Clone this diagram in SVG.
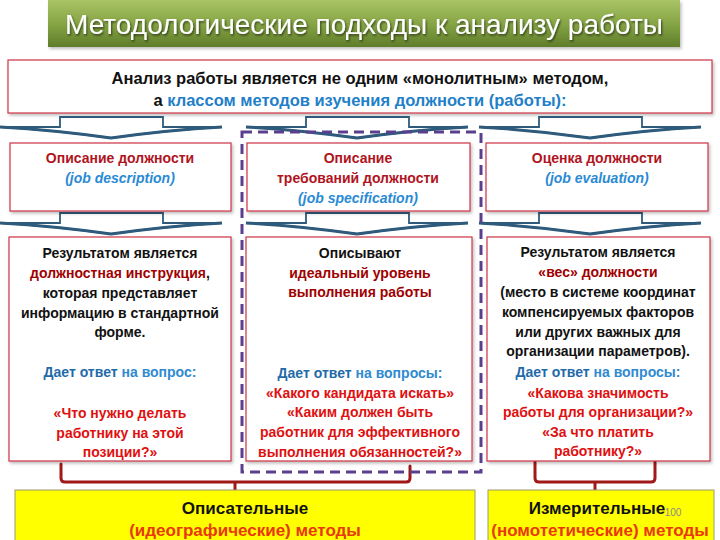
<svg xmlns="http://www.w3.org/2000/svg" width="720" height="540" viewBox="0 0 720 540">
<defs>
<linearGradient id="gTitle" x1="0" y1="0" x2="0" y2="1">
<stop offset="0" stop-color="#a9c466"/>
<stop offset="0.5" stop-color="#86a545"/>
<stop offset="1" stop-color="#5f7d2a"/>
</linearGradient>
<filter id="sh" x="-5%" y="-5%" width="110%" height="120%">
<feDropShadow dx="1.5" dy="2" stdDeviation="1.5" flood-color="#000" flood-opacity="0.25"/>
</filter>
<filter id="tsh" x="-5%" y="-20%" width="110%" height="140%">
<feDropShadow dx="1" dy="1.5" stdDeviation="1" flood-color="#000" flood-opacity="0.6"/>
</filter>
<g id="arrow">
<path d="M60,0 H163 V10 H222 Q168,13 111,21 Q54,13 0,10 H60 Z" fill="#ffffff" stroke="#2e5b7c" stroke-width="1.8" stroke-linejoin="miter"/>
<path d="M222,10 Q168,13 111,21 Q54,13 0,10" fill="none" stroke="#2e5b7c" stroke-width="3"/>
</g>
</defs>
<style>
text{font-family:"Liberation Sans",Arial,sans-serif;font-weight:bold;text-anchor:middle}
.box{fill:#ffffff;stroke:#cc3344;stroke-width:1.2}
.ybox{fill:#ffff00;stroke:#9a9a70;stroke-width:1}
.hd{font-size:14px;fill:#b0141e}
.it{font-size:14px;fill:#2a8ad4;font-style:italic}
.bd{font-size:14px;fill:#111111}
.dr{font-size:14px;fill:#a00000}
.bl{font-size:14px;fill:#1f6aa8}
.q{font-size:14px;fill:#e01010}
.br{fill:none;stroke:#a01818;stroke-width:3;stroke-linejoin:round;stroke-linecap:round}
</style>

<g id="title">
<rect x="48" y="0" width="632" height="47" fill="url(#gTitle)" filter="url(#sh)"/>
<text x="364" y="34" style="font-size:28px;font-weight:normal;fill:#ffffff" filter="url(#tsh)">Методологические подходы к анализу работы</text>
</g>

<g id="intro">
<rect class="box" x="8" y="60" width="704" height="53" filter="url(#sh)"/>
<text x="360" y="84" style="font-size:16.5px;fill:#111">Анализ работы является не одним «монолитным» методом,</text>
<text x="360" y="106" style="font-size:16.5px;fill:#111">а <tspan fill="#1f7fc8">классом методов изучения должности (работы):</tspan></text>
</g>

<g id="connectors">
<use href="#arrow" x="0" y="117"/>
<use href="#arrow" x="246" y="117"/>
<use href="#arrow" x="479" y="117"/>
<use href="#arrow" x="0" y="213"/>
<use href="#arrow" x="246" y="213"/>
<use href="#arrow" x="479" y="213"/>
<path class="br" d="M61,464 V478 Q61,482 65,482 H406 Q410,482 410,478 V466 M235,482 V490"/>
<path class="br" d="M535,462 V478 Q535,482 539,482 H651 Q655,482 655,478 V462 M595,482 V490"/>
</g>

<g id="group-dashed">
<rect x="242" y="132" width="239" height="340" fill="none" stroke="#5b3f8f" stroke-width="3" stroke-dasharray="10 6"/>
</g>

<g id="job-description">
<rect class="box" x="10" y="143" width="221" height="68" filter="url(#sh)"/>
<text class="hd" x="120" y="163">Описание должности</text>
<text class="it" x="120" y="183">(job description)</text>
</g>

<g id="job-specification">
<rect class="box" x="247" y="143" width="223" height="68" filter="url(#sh)"/>
<text class="hd" x="358" y="163">Описание</text>
<text class="hd" x="358" y="183">требований должности</text>
<text class="it" x="358" y="203">(job specification)</text>
</g>

<g id="job-evaluation">
<rect class="box" x="486" y="143" width="222" height="68" filter="url(#sh)"/>
<text class="hd" x="597" y="163">Оценка должности</text>
<text class="it" x="597" y="183">(job evaluation)</text>
</g>

<g id="result-description">
<rect class="box" x="9" y="237" width="222" height="224" filter="url(#sh)"/>
<text class="bd" x="120" y="258">Результатом является</text>
<text class="dr" x="120" y="278">должностная инструкция<tspan fill="#111">,</tspan></text>
<text class="bd" x="120" y="298">которая представляет</text>
<text class="bd" x="120" y="318">информацию в стандартной</text>
<text class="bd" x="120" y="337">форме.</text>
<text class="bl" x="120" y="377">Дает ответ <tspan fill="#2f8ad0">на вопрос:</tspan></text>
<text class="q" x="120" y="418">«Что нужно делать</text>
<text class="q" x="120" y="438">работнику на этой</text>
<text class="q" x="120" y="457">позиции?»</text>
</g>

<g id="result-specification">
<rect class="box" x="246" y="237" width="226" height="224" filter="url(#sh)"/>
<text class="bd" x="360" y="258">Описывают</text>
<text class="dr" x="360" y="278">идеальный уровень</text>
<text class="dr" x="360" y="297">выполнения работы</text>
<text class="bl" x="360" y="378">Дает ответ <tspan fill="#2f8ad0">на вопросы:</tspan></text>
<text class="q" x="360" y="398">«Какого кандидата искать»</text>
<text class="q" x="360" y="417">«Каким должен быть</text>
<text class="q" x="360" y="437">работник для эффективного</text>
<text class="q" x="360" y="457">выполнения обязанностей?»</text>
</g>

<g id="result-evaluation">
<rect class="box" x="487" y="237" width="223" height="224" filter="url(#sh)"/>
<text class="bd" x="598" y="257">Результатом является</text>
<text class="dr" x="598" y="277">«вес» должности</text>
<text class="bd" x="598" y="297">(место в системе координат</text>
<text class="bd" x="598" y="317">компенсируемых факторов</text>
<text class="bd" x="598" y="337">или других важных для</text>
<text class="bd" x="598" y="356">организации параметров).</text>
<text class="bl" x="598" y="377">Дает ответ <tspan fill="#2f8ad0">на вопросы:</tspan></text>
<text class="q" x="598" y="398">«Какова значимость</text>
<text class="q" x="598" y="417">работы для организации?»</text>
<text class="q" x="598" y="437">«За что платить</text>
<text class="q" x="598" y="456">работнику?»</text>
</g>

<g id="descriptive">
<rect class="ybox" x="15" y="490" width="460" height="56"/>
<text x="245" y="514" style="font-size:17px;fill:#111">Описательные</text>
<text x="245" y="536" style="font-size:17px;fill:#e8380c">(идеографические) методы</text>
</g>

<g id="measuring">
<rect class="ybox" x="488" y="490" width="226" height="56"/>
<text x="597" y="514" style="font-size:17px;fill:#111">Измерительные</text>
<text x="600" y="536" style="font-size:17px;fill:#e8380c">(номотетические) методы</text>
<text x="673" y="516" style="font-size:10px;font-weight:normal;fill:#8a8a8a">100</text>
</g>
</svg>
